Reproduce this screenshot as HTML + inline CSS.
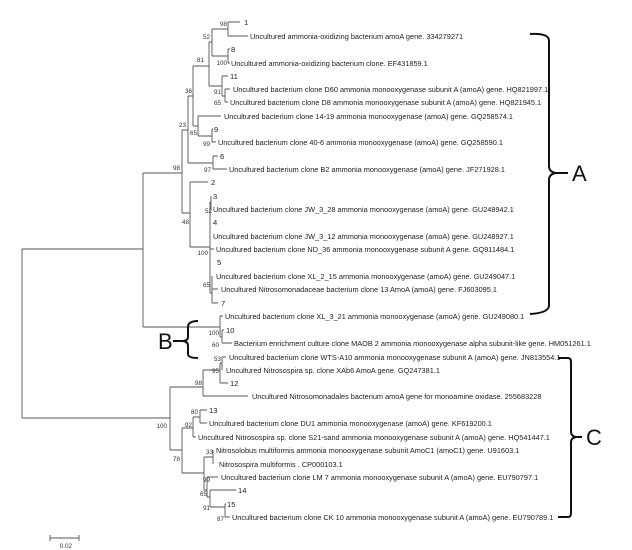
<!DOCTYPE html>
<html><head><meta charset="utf-8"><style>
html,body{margin:0;padding:0;background:#fff;width:632px;height:550px;overflow:hidden}
svg{display:block}
.t{font-family:"Liberation Sans",sans-serif;font-size:7.35px;fill:#222}
.n{font-family:"Liberation Sans",sans-serif;font-size:7.6px;fill:#222}
.b{font-family:"Liberation Sans",sans-serif;font-size:6.3px;fill:#333;text-anchor:end}
</style></head><body>
<svg width="632" height="550" viewBox="0 0 632 550" xmlns="http://www.w3.org/2000/svg">
<g stroke="#555" stroke-width="0.9" fill="none">
<path d="M22,249V418M22,249H143M22,418H170"/>
<path d="M143,173V327M143,173H182M143,327H220"/>
<path d="M182,130V213M182,130H188M182,213H190"/>
<path d="M188,96V163M188,96H193M188,163H213"/>
<path d="M193,66V126M193,66H209M193,126H198"/>
<path d="M209,42V86M209,42H212M209,86H222"/>
<path d="M212,29V56M212,29H228M212,56H228"/>
<path d="M228,22V36M228,22H240M228,36H248"/>
<path d="M228,49V63M228,49H230M228,63H230"/>
<path d="M222,76V96M222,76H228M222,96H225"/>
<path d="M225,89V102M225,89H230M225,102H228"/>
<path d="M198,116V136M198,116H221M198,136H212"/>
<path d="M212,129V142M212,129H213M212,142H216"/>
<path d="M213,156V169M213,156H218M213,169H227"/>
<path d="M190,182V247M190,182H208M190,247H210"/>
<path d="M211,196V209M210,202V293M210,202H211M210,293H212M212,276V303M212,289H218M212,303H218M210,249H214"/>
<path d="M220,316V337M220,316H223M220,337H222M222,330V343M222,343H232M222,330H224"/>
<path d="M170,387V450M170,387H203M170,450H182"/>
<path d="M203,370V396M203,370H220M203,396H248"/>
<path d="M220,363V383M220,363H222M222,357V370M222,357H226M220,383H228"/>
<path d="M182,428V473M182,428H193M182,473H204"/>
<path d="M193,417V437M193,417H200M193,437H196"/>
<path d="M200,410V423M200,410H207M200,423H207"/>
<path d="M204,457V490M204,457H213M213,450V464M204,490H207"/>
<path d="M207,477V497M207,477H218M207,497H210"/>
<path d="M210,490V507M210,490H236M210,507H225"/>
<path d="M225,504V517M225,504H226M225,517H230"/>
<path d="M50,538H79M50,535V541M79,535V541"/>
</g>
<g>
<text class="n" x="244" y="25">1</text>
<text class="t" x="250" y="39">Uncultured ammonia-oxidizing bacterium amoA gene. 334279271</text>
<text class="n" x="231" y="52">8</text>
<text class="t" x="231" y="66">Uncultured ammonia-oxidizing bacterium clone. EF431859.1</text>
<text class="n" x="230" y="79">11</text>
<text class="t" x="233" y="92">Uncultured bacterium clone D60 ammonia monooxygenase subunit A (amoA) gene. HQ821997.1</text>
<text class="t" x="230" y="105">Uncultured bacterium clone D8 ammonia monooxygenase subunit A (amoA) gene. HQ821945.1</text>
<text class="t" x="224" y="119">Uncultured bacterium clone 14-19 ammonia monooxygenase (amoA) gene. GQ258574.1</text>
<text class="n" x="214" y="132">9</text>
<text class="t" x="218" y="145">Uncultured bacterium clone 40-6 ammonia monooxygenase (amoA) gene. GQ258590.1</text>
<text class="n" x="220" y="159">6</text>
<text class="t" x="229" y="172">Uncultured bacterium clone B2 ammonia monooxygenase (amoA) gene. JF271928.1</text>
<text class="n" x="211" y="185">2</text>
<text class="n" x="213" y="199">3</text>
<text class="t" x="213" y="212">Uncultured bacterium clone JW_3_28 ammonia monooxygenase (amoA) gene. GU248942.1</text>
<text class="n" x="213" y="225">4</text>
<text class="t" x="213" y="239">Uncultured bacterium clone JW_3_12 ammonia monooxygenase (amoA) gene. GU248927.1</text>
<text class="t" x="216" y="252">Uncultured bacterium clone ND_36 ammonia monooxygenase subunit A gene. GQ911484.1</text>
<text class="n" x="217" y="265">5</text>
<text class="t" x="216" y="279">Uncultured bacterium clone XL_2_15 ammonia monooxygenase (amoA) gene. GU249047.1</text>
<text class="t" x="221" y="292">Uncultured Nitrosomonadaceae bacterium clone 13 AmoA (amoA) gene. FJ603095.1</text>
<text class="n" x="221" y="306">7</text>
<text class="t" x="225" y="319">Uncultured bacterium clone XL_3_21 ammonia monooxygenase (amoA) gene. GU249080.1</text>
<text class="n" x="226" y="333">10</text>
<text class="t" x="234" y="346">Bacterium enrichment culture clone MAOB 2 ammonia monooxygenase alpha subunit-like gene. HM051261.1</text>
<text class="t" x="229" y="360">Uncultured bacterium clone WTS-A10 ammonia monooxygenase subunit A (amoA) gene. JN813554.1</text>
<text class="t" x="226" y="373">Uncultured Nitrosospira sp. clone XAb6 AmoA gene. GQ247381.1</text>
<text class="n" x="230" y="386">12</text>
<text class="t" x="252" y="399">Uncultured Nitrosomonadales bacterium amoA gene for monoamine oxidase. 255683228</text>
<text class="n" x="209" y="413">13</text>
<text class="t" x="209" y="426">Uncultured bacterium clone DU1 ammonia monooxygenase (amoA) gene. KF619200.1</text>
<text class="t" x="198" y="440">Uncultured Nitrosospira sp. clone S21-sand ammonia monooxygenase subunit A (amoA) gene. HQ541447.1</text>
<text class="t" x="216" y="453">Nitrosolobus multiformis ammonia monooxygenase subunit AmoC1 (amoC1) gene. U91603.1</text>
<text class="t" x="219" y="467">Nitrosospira multiformis . CP000103.1</text>
<text class="t" x="221" y="480">Uncultured bacterium clone LM 7 ammonia monooxygenase subunit A (amoA) gene. EU790797.1</text>
<text class="n" x="238" y="493">14</text>
<text class="n" x="227" y="507">15</text>
<text class="t" x="232" y="520">Uncultured bacterium clone CK 10 ammonia monooxygenase subunit A (amoA) gene. EU790789.1</text>
</g>
<g>
<text class="b" x="227" y="26">98</text>
<text class="b" x="210" y="39">52</text>
<text class="b" x="204" y="62">81</text>
<text class="b" x="192" y="93">36</text>
<text class="b" x="186" y="127">23</text>
<text class="b" x="227" y="65">100</text>
<text class="b" x="221" y="94">91</text>
<text class="b" x="221" y="105">65</text>
<text class="b" x="197" y="135">65</text>
<text class="b" x="210" y="146">99</text>
<text class="b" x="211" y="172">97</text>
<text class="b" x="180" y="170">98</text>
<text class="b" x="189" y="224">48</text>
<text class="b" x="212" y="213">52</text>
<text class="b" x="208" y="255">100</text>
<text class="b" x="210" y="287">65</text>
<text class="b" x="219" y="335">100</text>
<text class="b" x="219" y="347">60</text>
<text class="b" x="221" y="361">53</text>
<text class="b" x="219" y="373">95</text>
<text class="b" x="202" y="385">98</text>
<text class="b" x="198" y="414">80</text>
<text class="b" x="192" y="427">92</text>
<text class="b" x="167" y="428">100</text>
<text class="b" x="180" y="461">78</text>
<text class="b" x="213" y="454">33</text>
<text class="b" x="210" y="482">99</text>
<text class="b" x="207" y="496">65</text>
<text class="b" x="210" y="510">91</text>
<text class="b" x="224" y="521">87</text>
<text class="b" x="72" y="548">0.02</text>
</g>
<g stroke="#111" stroke-width="2" fill="none">
<path d="M530,34 Q548,33 549,40 V166 Q549,172 556,173 H568 M556,173 Q549,174 549,180 V306 Q548,313 530,314"/>
<path d="M198,321 Q188,321 188,327 V337 Q188,341 182,341 H173 M182,341 Q188,341 188,346 V354 Q188,358 198,358"/>
<path d="M558,358 H568 Q571,358 571,362 V432 Q571,436 576,437 H582 M576,437 Q571,438 571,442 V513 Q571,517 568,517 H558"/>
</g>
<g font-family="Liberation Sans, sans-serif" fill="#111" font-size="22">
<text x="572" y="181">A</text>
<text x="158" y="349">B</text>
<text x="586" y="445">C</text>
</g>
</svg>
</body></html>
